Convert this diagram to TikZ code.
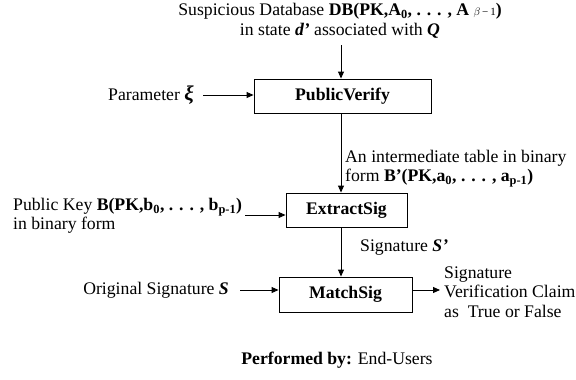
\documentclass[tikz,border=0pt]{standalone}
\usepackage{fontspec}
\setmainfont{Liberation Serif}
\usetikzlibrary{arrows.meta}
\begin{document}
\begin{tikzpicture}[x=1pt,y=-1pt,
  every node/.style={font=\fontsize{17.7}{19.5}\selectfont, inner sep=0pt},
  procbox/.style={draw, line width=0.9pt, font=\fontsize{17.7}{19.5}\selectfont\bfseries},
  conn/.style={line width=0.9pt, -{Triangle[length=7pt,width=6pt]}}]
\useasboundingbox (0,0) rectangle (576,380);
% boxes
\node[procbox, minimum width=177pt, minimum height=34pt] (pv) at (342.5,96) {PublicVerify};
\node[procbox, minimum width=121pt, minimum height=34pt] (es) at (346.5,210) {ExtractSig};
\node[procbox, minimum width=133pt, minimum height=35pt] (ms) at (345.5,294.5) {MatchSig};
% texts
\node[align=center] (db) at (340,21) {Suspicious Database \textbf{DB(PK,A\textsubscript{0}, . . . , A} {\fontsize{11}{11}\selectfont$\beta$\,−\,1}\textbf{)}\\in state \textbf{\textit{d’}} associated with \textbf{\textit{Q}}};
\coordinate (dbb) at (341,45);
\node[anchor=east] (par) at (194,95) {Parameter {\fontsize{21}{21}\selectfont\textbf{\textit{ξ}}}};
\node[anchor=north west, align=left] (inter) at (345,150) {An intermediate table in binary\\form \textbf{B’(PK,a\textsubscript{0}, . . . , a\textsubscript{p-1})}};
\node[anchor=west, align=left] (pk) at (13,216) {Public Key \textbf{B(PK,b\textsubscript{0}, . . . , b\textsubscript{p-1})}\\in binary form};
\node[anchor=west] (sigp) at (360,248) {Signature \textbf{\textit{S’}}};
\node[anchor=east] (orig) at (229,290) {Original Signature \textbf{\textit{S}}};
\node[anchor=west, align=left] (out) at (444,292) {Signature\\Verification Claim\\as~~True or False};
\node (perf) at (337,360) {\textbf{Performed by:} End-Users};
% connectors
\draw[conn] (dbb) -- (dbb |- pv.north);
\draw[conn] (par.east) ++(9,0) -- (pv.west |- par.east);
\draw[conn] ([xshift=-1.5pt]pv.south) -- ([xshift=-1.5pt]pv.south |- es.north);
\draw[conn] (245,215) -- (es.west |- 0,215);
\draw[conn] ([xshift=-5.5pt]es.south) -- ([xshift=-5.5pt]es.south |- ms.north);
\draw[conn] (240,290) -- (ms.west |- 0,290);
\draw[conn] (ms.east |- 0,290) -- (440,290);
\end{tikzpicture}
\end{document}
